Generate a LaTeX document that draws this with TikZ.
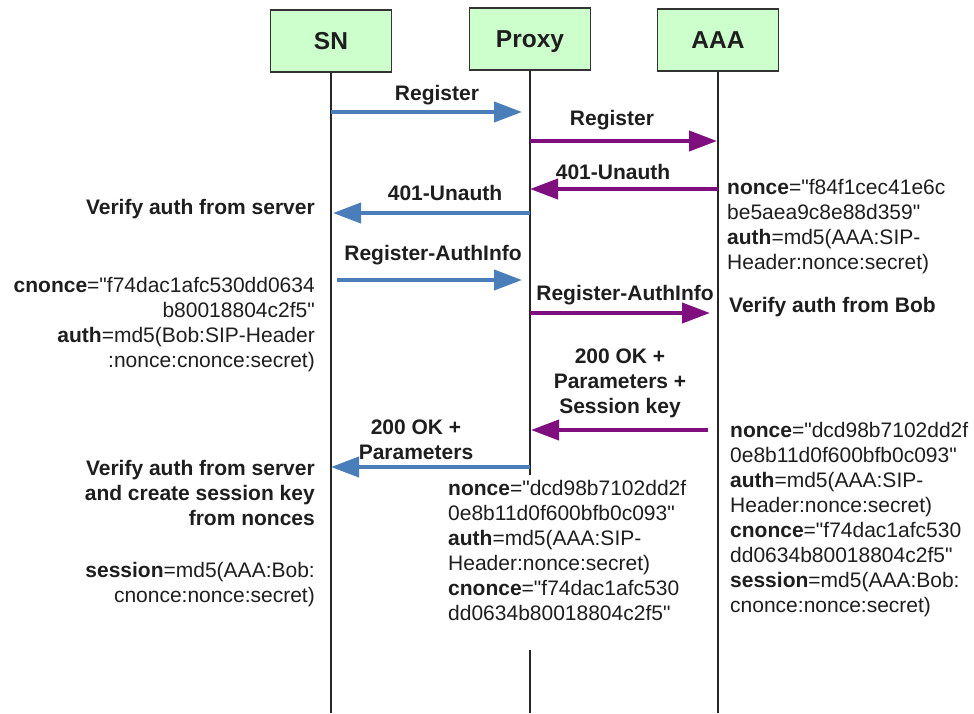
\documentclass[tikz,border=0pt]{standalone}
\usepackage{fontspec}
\setmainfont{Liberation Sans}[Ligatures=TeXOff]
\usetikzlibrary{arrows.meta}
\definecolor{boxfill}{HTML}{CCFFCC}
\definecolor{msgblue}{HTML}{4A7EBB}
\definecolor{msgpurple}{HTML}{7F0F7E}
\definecolor{txt}{HTML}{1E1E1E}
\begin{document}
\begin{tikzpicture}[x=1pt,y=-1pt,
  entity/.style={draw=black!80, line width=1.3pt, fill=boxfill, minimum width=121pt, minimum height=62pt, inner sep=0pt, text height=17.5pt, text depth=0pt, font=\fontsize{24.5}{28}\selectfont\bfseries, text=txt},
  lifeline/.style={line width=1.3pt, draw=black!85},
  bluemsg/.style={line width=4pt, draw=msgblue, -{Triangle[length=28pt,width=20pt]}},
  purplemsg/.style={line width=4pt, draw=msgpurple, -{Triangle[length=28pt,width=20pt]}},
  lbl/.style={font=\fontsize{21}{25}\selectfont\bfseries, text=txt, inner sep=0pt, align=center},
  note/.style={font=\fontsize{21}{25}\selectfont, text=txt, inner sep=0pt},
]
\useasboundingbox[fill=white] (0,0) rectangle (974,713);

% entities
\node[entity] (sn) at (331,41) {SN};
\node[entity] (proxy) at (530,39) {Proxy};
\node[entity] (aaa) at (718,40) {AAA};

% lifelines
\coordinate (snend) at (sn.south |- 0,713);
\coordinate (aaaend) at (aaa.south |- 0,713);
\coordinate (pxgap1) at (proxy.south |- 0,475);
\coordinate (pxgap2) at (proxy.south |- 0,650);
\coordinate (pxend) at (proxy.south |- 0,713);
\draw[lifeline] (sn.south) -- (snend);
\draw[lifeline] (aaa.south) -- (aaaend);
\draw[lifeline] (proxy.south) -- (pxgap1);
\draw[lifeline] (pxgap2) -- (pxend);

% messages
\draw[bluemsg, shorten >=8pt] (sn |- 0,112) -- (proxy |- 0,112);
\node[lbl] (l1) at (437,95) {Register};

\draw[purplemsg, shorten >=1pt] (proxy |- 0,141) -- (aaa |- 0,141);
\node[lbl] (l2) at (612,120) {Register};

\draw[purplemsg] (aaa |- 0,189) -- (proxy |- 0,189);
\node[lbl] (l3) at (613,172) {401-Unauth};

\draw[bluemsg, shorten >=2pt] (proxy |- 0,213) -- (sn |- 0,213);
\node[lbl] (l4) at (445,193) {401-Unauth};

\draw[bluemsg, shorten <=6pt, shorten >=8pt] (sn |- 0,280) -- (proxy |- 0,280);
\node[lbl] (l5) at (433,255) {Register-AuthInfo};

\draw[purplemsg, shorten >=8pt] (proxy |- 0,313) -- (aaa |- 0,313);
\node[lbl] (l6) at (625,295) {Register-AuthInfo};

\draw[purplemsg, shorten <=10pt, shorten >=1pt] (aaa |- 0,430) -- (proxy |- 0,430);
\node[lbl] (l7) at (620,383) {200 OK +\\Parameters +\\Session key};

\draw[bluemsg, shorten >=0pt] (proxy |- 0,467) -- (sn |- 0,467);
\node[lbl] (l8) at (416,440) {200 OK +\\Parameters};

% notes
\node[lbl, anchor=east] (v1) at (315,209) {Verify auth from server};
\node[note, align=right, anchor=north east] (n1) at (315,277)
  {\textbf{cnonce}="f74dac1afc530dd0634\\b80018804c2f5"\\\textbf{auth}=md5(Bob:SIP-Header\\:nonce:cnonce:secret)};
\node[note, align=left, anchor=north west] (n2) at (727,179)
  {\textbf{nonce}="f84f1cec41e6c\\be5aea9c8e88d359"\\\textbf{auth}=md5(AAA:SIP-\\Header:nonce:secret)};
\node[lbl, anchor=west] (v2) at (729,307) {Verify auth from Bob};
\node[lbl, align=right, anchor=north east] (v3) at (315,460)
  {Verify auth from server\\and create session key\\from nonces};
\node[note, align=right, anchor=north east] (n3) at (315,562)
  {\textbf{session}=md5(AAA:Bob:\\cnonce:nonce:secret)};
\node[note, align=left, anchor=north west] (n4) at (448,480)
  {\textbf{nonce}="dcd98b7102dd2f\\0e8b11d0f600bfb0c093"\\\textbf{auth}=md5(AAA:SIP-\\Header:nonce:secret)\\\textbf{cnonce}="f74dac1afc530\\dd0634b80018804c2f5"};
\node[note, align=left, anchor=north west] (n5) at (730,422)
  {\textbf{nonce}="dcd98b7102dd2f\\0e8b11d0f600bfb0c093"\\\textbf{auth}=md5(AAA:SIP-\\Header:nonce:secret)\\\textbf{cnonce}="f74dac1afc530\\dd0634b80018804c2f5"\\\textbf{session}=md5(AAA:Bob:\\cnonce:nonce:secret)};
\end{tikzpicture}
\end{document}
